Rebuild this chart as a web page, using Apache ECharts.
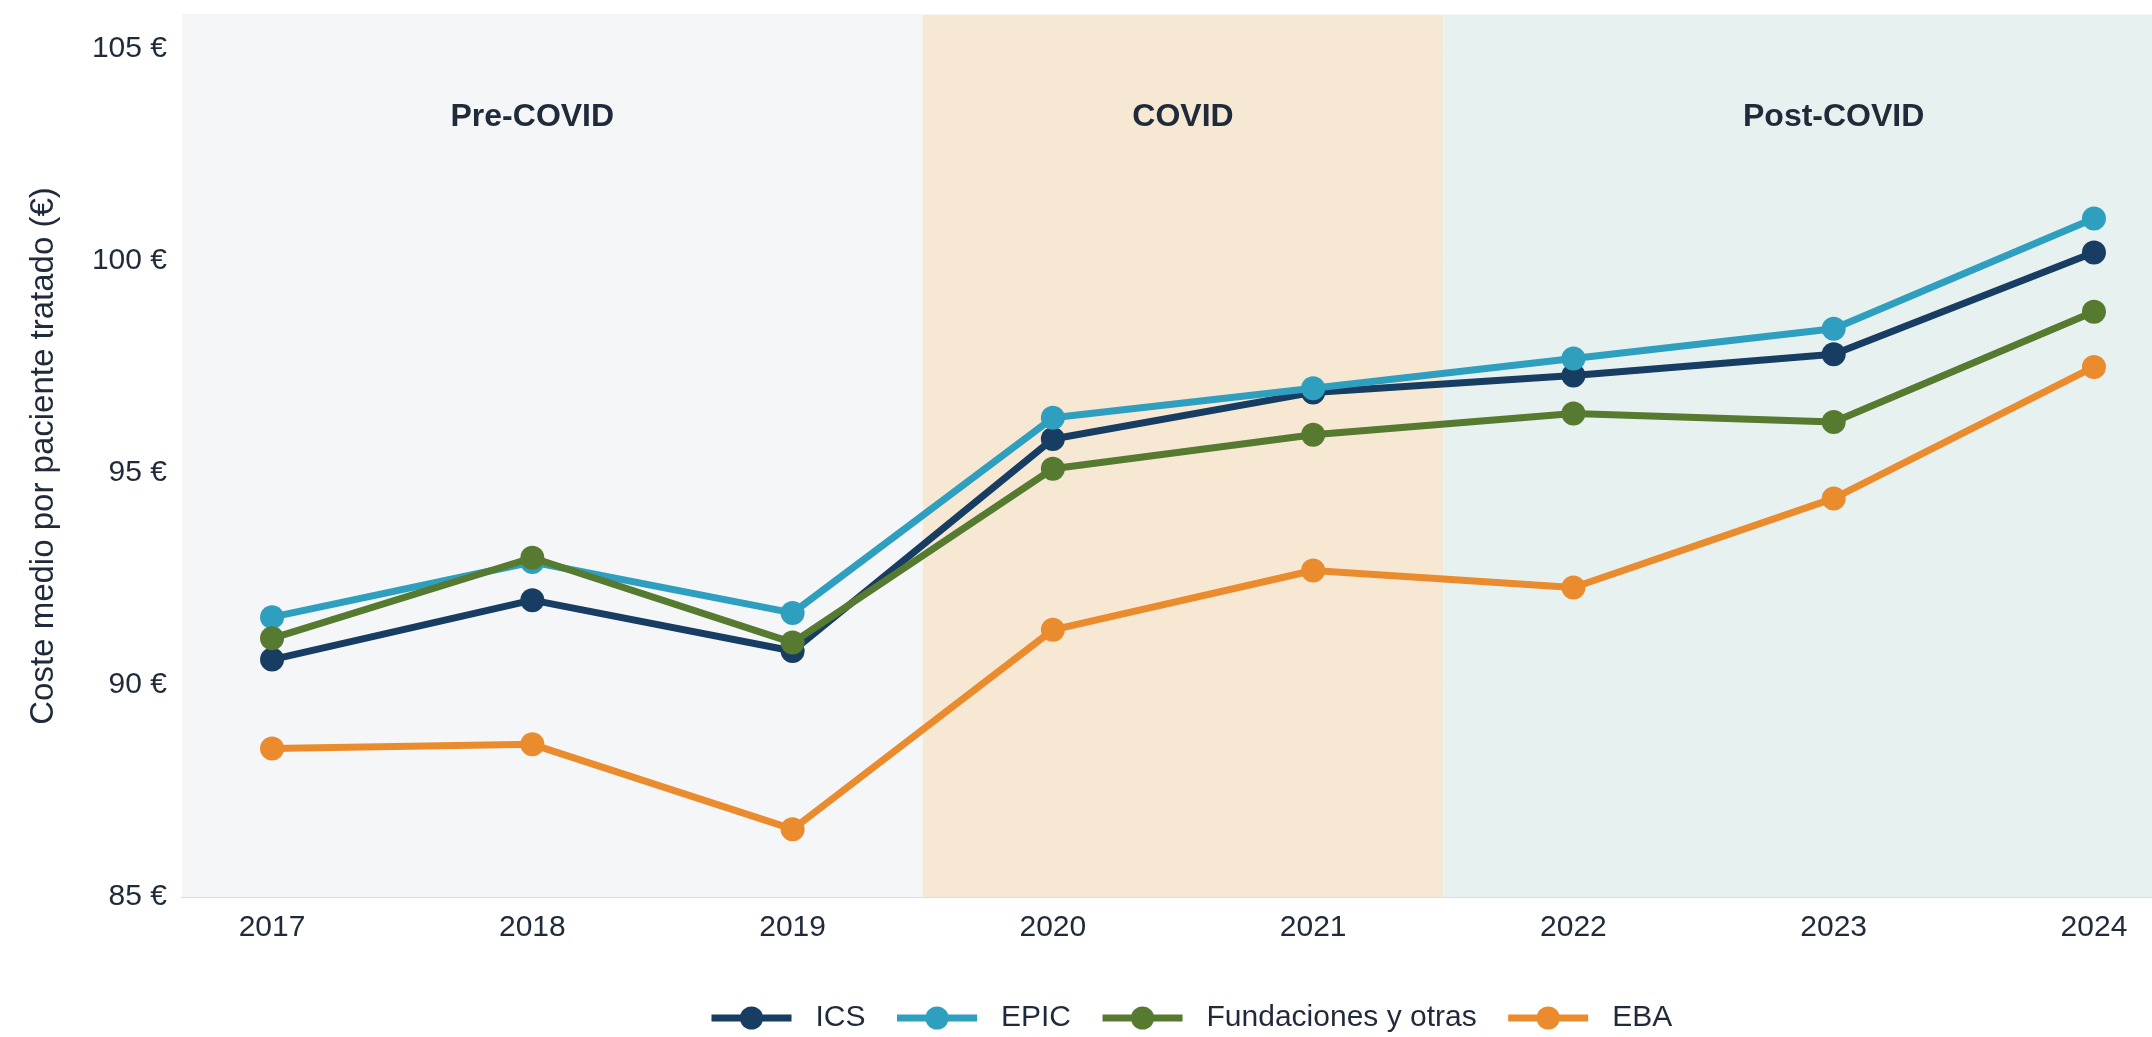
<!DOCTYPE html>
<html>
<head>
<meta charset="utf-8">
<script src="https://cdn.jsdelivr.net/npm/echarts@6/dist/echarts.min.js"></script>
<style>
html,body{margin:0;padding:0;background:#ffffff;}
#chart{width:2152px;height:1037px;}
</style>
</head>
<body>
<div id="chart"></div>
<script>
// ---- data ----
const years = [2017, 2018, 2019, 2020, 2021, 2022, 2023, 2024];
const seriesNames = ['ICS', 'EPIC', 'Fundaciones y otras', 'EBA'];
const ics = [90.6, 92.0, 90.8, 95.8, 96.9, 97.3, 97.8, 100.2];
const epic = [91.6, 92.9, 91.7, 96.3, 97.0, 97.7, 98.4, 101.0];
const fundaciones = [91.1, 93.0, 91.0, 95.1, 95.9, 96.4, 96.2, 98.8];
const eba = [88.5, 88.6, 86.6, 91.3, 92.7, 92.3, 94.4, 97.5];
const yTicks = [85, 90, 95, 100, 105];
const bandNames = ['Pre-COVID', 'COVID', 'Post-COVID'];
const bandStart = [2016.654, 2019.5, 2021.5];
const bandEnd = [2019.5, 2021.5, 2024.223];
const bandLabelX = [2018, 2020.5, 2023];
const bandLabelY = 103.38;

// ---- styles ----
const colors = ['#173d63', '#2f9fc0', '#567a2f', '#ea8b2d'];
const bandColors = ['#f4f6f8', '#f7e8d4', '#e7f1ef'];
const textColor = '#1f2a3a';
const fontFamily = '"Liberation Sans", Arial, sans-serif';

const valuesList = [ics, epic, fundaciones, eba];

const lineSeries = seriesNames.map((name, i) => ({
  name: name,
  type: 'line',
  data: years.map((y, j) => [y, valuesList[i][j]]),
  symbol: 'circle',
  symbolSize: 24,
  showSymbol: true,
  lineStyle: { width: 7, color: colors[i] },
  itemStyle: { color: colors[i] },
  z: 3 + i,
  silent: true
}));

const bandSeries = {
  name: 'bands',
  type: 'line',
  data: [],
  z: -1,
  silent: true,
  markArea: {
    silent: true,
    data: bandNames.map((n, i) => [
      { xAxis: bandStart[i], itemStyle: { color: bandColors[i] } },
      { xAxis: bandEnd[i] }
    ])
  }
};

const labelSeries = {
  name: 'bandLabels',
  type: 'scatter',
  data: bandNames.map((n, i) => ({ value: [bandLabelX[i], bandLabelY], name: n })),
  symbolSize: 0,
  silent: true,
  z: 10,
  itemStyle: { opacity: 1 },
  label: {
    show: true,
    position: 'inside',
    formatter: p => p.name,
    fontFamily: fontFamily,
    fontWeight: 'bold',
    fontSize: 32,
    color: textColor,
    opacity: 1
  }
};

const chart = echarts.init(document.getElementById('chart'), null, { renderer: 'canvas' });
chart.setOption({
  backgroundColor: '#ffffff',
  animation: false,
  textStyle: { fontFamily: fontFamily },
  grid: { left: 182, right: 0, top: 15, bottom: 140, containLabel: false },
  xAxis: {
    type: 'value',
    min: bandStart[0],
    max: bandEnd[2],
    axisLine: { show: true, lineStyle: { color: '#d9dee5', width: 2 } },
    axisTick: { show: false },
    splitLine: { show: false },
    axisLabel: {
      customValues: years,
      margin: 16,
      fontSize: 30,
      color: textColor,
      fontFamily: fontFamily,
      formatter: v => String(v)
    }
  },
  yAxis: {
    type: 'value',
    min: 85,
    max: 105.8,
    interval: 5,
    name: 'Coste medio por paciente tratado (€)',
    nameLocation: 'middle',
    nameGap: 122,
    nameTextStyle: { fontSize: 33, color: textColor, fontFamily: fontFamily },
    axisLine: { show: false },
    axisTick: { show: false },
    splitLine: { show: true, lineStyle: { color: 'rgba(0,0,0,0.04)', width: 2 } },
    axisLabel: {
      customValues: yTicks,
      margin: 15,
      fontSize: 30,
      color: textColor,
      fontFamily: fontFamily,
      formatter: v => v + ' €'
    }
  },
  legend: {
    data: seriesNames,
    orient: 'horizontal',
    left: 703,
    top: 998,
    itemWidth: 80,
    itemHeight: 29,
    itemGap: 28,
    lineStyle: { width: 7 },
    textStyle: { fontSize: 30, color: textColor, fontFamily: fontFamily, padding: [0, 0, 0, 19] },
    selectedMode: false
  },
  series: [bandSeries].concat(lineSeries, [labelSeries])
});
</script>
</body>
</html>
